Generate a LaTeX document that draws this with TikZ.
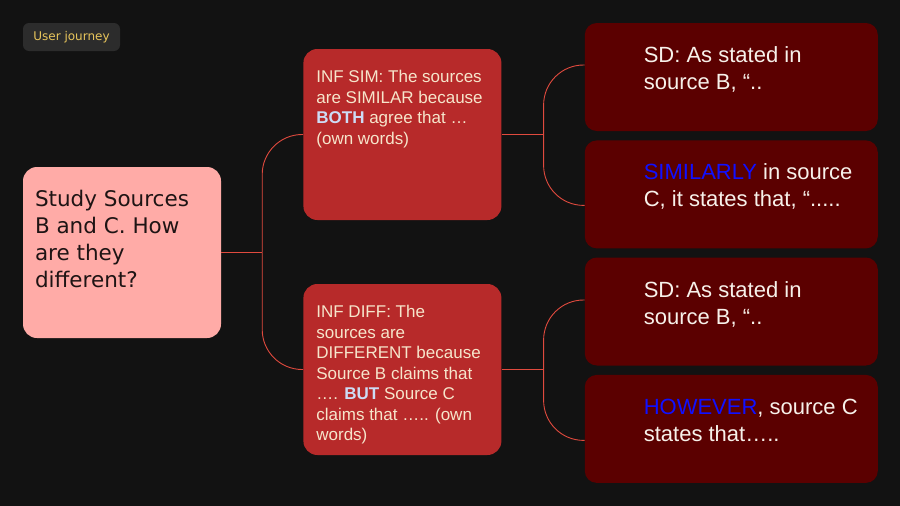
\documentclass[tikz,border=0pt]{standalone}
\usepackage{fontspec}
\setmainfont{Liberation Sans}
\newfontfamily\rootfont{DejaVu Sans}
\usepackage{tikz}
\usetikzlibrary{positioning}

\definecolor{bgdark}{HTML}{121212}
\definecolor{tagfill}{HTML}{2C2C2C}
\definecolor{tagink}{HTML}{E8C55C}
\definecolor{rootfill}{HTML}{FFABA7}
\definecolor{rootink}{HTML}{1E1414}
\definecolor{inffill}{HTML}{B72A2A}
\definecolor{infink}{HTML}{F6E5CB}
\definecolor{boldblue}{HTML}{CDDCF5}
\definecolor{sdfill}{HTML}{5B0000}
\definecolor{sdink}{HTML}{F7F1EA}
\definecolor{kwblue}{HTML}{1010FF}
\definecolor{linkred}{HTML}{E04A3E}

% text block pinned to the top of a card: height, width, top gap, left gap, text
\newcommand{\cardtext}[5]{\parbox[c][#1][t]{#2}{\raggedright\leftskip=#4\vspace*{#3}#5}}

\tikzset{
    x=1pt, y=-1pt,
    link/.style={draw=linkred, line width=0.9pt, rounded corners=40pt},
    tagbox/.style={fill=tagfill, text=tagink, rounded corners=6pt, inner sep=0pt,
        minimum width=97pt, minimum height=28pt, font=\rootfont\fontsize{12}{14}\selectfont},
    rootbox/.style={fill=rootfill, text=rootink, rounded corners=14pt, inner xsep=12pt,
        inner ysep=0pt, font=\rootfont\fontsize{21.5}{27}\selectfont},
    infbox/.style={fill=inffill, text=infink, rounded corners=14pt, inner xsep=13pt,
        inner ysep=0pt, font=\fontsize{17}{20.5}\selectfont},
    sdbox/.style={fill=sdfill, text=sdink, rounded corners=12pt, inner sep=0pt,
        font=\fontsize{22}{27}\selectfont}
}

\begin{document}
\begin{tikzpicture}
    \path[fill=bgdark] (0,0) rectangle (900,506);

    \node[tagbox] (tag) at (71.5,37) {User journey};

    \node[rootbox] (root) at (122,252.5)
        {\cardtext{171pt}{174pt}{23pt}{0pt}{Study Sources\\B and C. How\\are they\\different?}};

    \node[infbox, right=82pt of root, yshift=118pt] (sim)
        {\cardtext{171pt}{172pt}{21.5pt}{0pt}{INF SIM: The sources\\are SIMILAR because\\{\bfseries\color{boldblue}BOTH} agree that …\\(own words)}};
    \node[infbox, right=82pt of root, yshift=-117pt] (diff)
        {\cardtext{171pt}{172pt}{21.5pt}{0pt}{INF DIFF: The\\sources are\\DIFFERENT because\\Source B claims that\\…. {\bfseries\color{boldblue}BUT} Source C\\claims that ….. (own\\words)}};

    \node[sdbox, right=83pt of sim, yshift=57.5pt] (sd1)
        {\cardtext{108pt}{293pt}{23.5pt}{59pt}{SD: As stated in\\source B, “..}};
    \node[sdbox, below=9pt of sd1] (sim2)
        {\cardtext{108pt}{293pt}{23.5pt}{59pt}{{\color{kwblue}SIMILARLY} in source\\C, it states that, “.....}};
    \node[sdbox, right=83pt of diff, yshift=58pt] (sd2)
        {\cardtext{108pt}{293pt}{24.5pt}{59pt}{SD: As stated in\\source B, “..}};
    \node[sdbox, below=9pt of sd2] (how)
        {\cardtext{108pt}{293pt}{24.5pt}{59pt}{{\color{kwblue}HOWEVER}, source C\\states that…..}};

    % brackets
    \coordinate[right=41pt of root] (j0);
    \coordinate[right=42pt of sim] (j1);
    \coordinate[right=42pt of diff] (j2);

    \draw[link] (root.east) -- (j0);
    \draw[link] (sim.west) -| (j0);
    \draw[link] (diff.west) -| (j0);
    \draw[link] (sim.east) -- (j1);
    \draw[link] ([yshift=12pt]sd1.west) -| (j1);
    \draw[link] ([yshift=-11pt]sim2.west) -| (j1);
    \draw[link] (diff.east) -- (j2);
    \draw[link] ([yshift=11.5pt]sd2.west) -| (j2);
    \draw[link] ([yshift=-11.5pt]how.west) -| (j2);
\end{tikzpicture}
\end{document}
